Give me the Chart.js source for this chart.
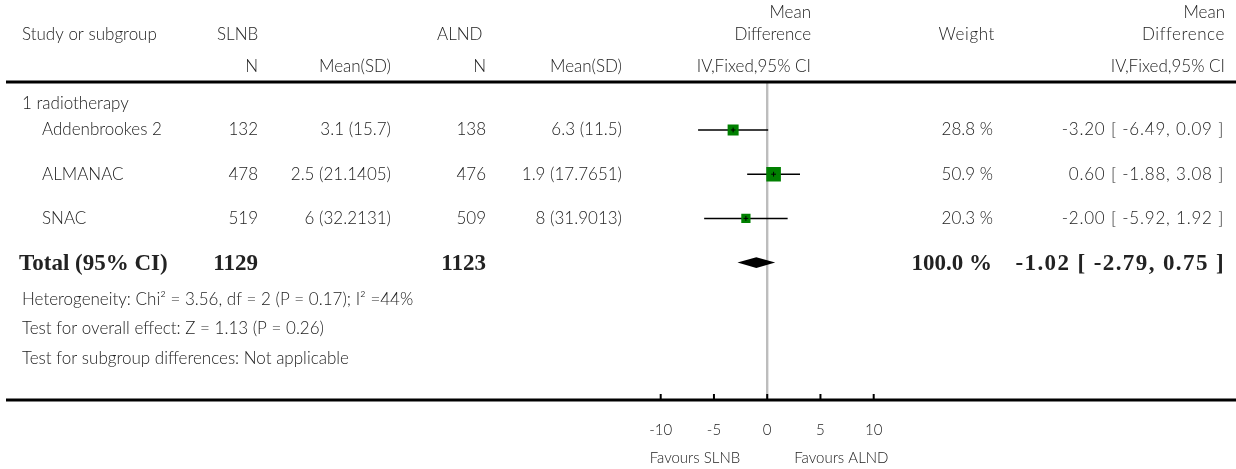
<!DOCTYPE html>
<html>
<head>
<meta charset="utf-8">
<script src="https://cdn.jsdelivr.net/npm/chart.js@4.4.0/dist/chart.umd.min.js"></script>
<style>
  html, body { margin: 0; padding: 0; background: #fff; }
  #wrap { width: 1236px; height: 469px; }
</style>
</head>
<body>
<div id="wrap"><canvas id="forest" width="1236" height="469"></canvas></div>
<script>
// Study rows of the "1 radiotherapy" subgroup
const studies = ['Addenbrookes 2', 'ALMANAC', 'SNAC'];
const slnbN = [132, 478, 519];
const slnbMean = ['3.1', '2.5', '6'];
const slnbSD = ['15.7', '21.1405', '32.2131'];
const alndN = [138, 476, 509];
const alndMean = ['6.3', '1.9', '8'];
const alndSD = ['11.5', '17.7651', '31.9013'];
const meanDiff = [-3.20, 0.60, -2.00];
const ciLow = [-6.49, -1.88, -5.92];
const ciHigh = [0.09, 3.08, 1.92];
const weights = [28.8, 50.9, 20.3];

// Pooled result
const totalN = [1129, 1123];
const totalWeight = 100.0;
const totalDiff = -1.02;
const totalLow = -2.79;
const totalHigh = 0.75;

// Axis ticks
const tickValues = [-10, -5, 0, 5, 10];
const tickLabels = ['-10', '-5', '0', '5', '10'];

const TOTAL_ROW = studies.length;          // row index of the pooled diamond
const SANS = '"Lato", "Open Sans", sans-serif';
const SERIF = '"Liberation Serif", "DejaVu Serif", serif';
const INK = '#222';
const BODY = '300 17px ' + SANS;
const SMALL = '300 15px ' + SANS;
const BOLD = 'bold 23px ' + SERIF;

function fmt2(v) { return v.toFixed(2); }
function ciText(m, lo, hi) { return fmt2(m) + ' [ ' + fmt2(lo) + ', ' + fmt2(hi) + ' ]'; }

// horizontal CI whiskers, one line dataset per study
const whiskers = studies.map((s, i) => ({
  type: 'line',
  label: s + ' CI',
  data: [{ x: ciLow[i], y: i }, { x: ciHigh[i], y: i }],
  borderColor: '#000',
  borderWidth: 1.5,
  pointRadius: 0,
  showLine: true,
  order: 3
}));

const squares = {
  type: 'scatter',
  label: 'Study estimate',
  data: meanDiff.map((m, i) => ({ x: m, y: i })),
  pointStyle: 'rect',
  pointRadius: weights.map(w => Math.sqrt(w) * 1.45),
  backgroundColor: '#008000',
  borderColor: '#008000',
  borderWidth: 0,
  order: 2
};

const centres = {
  type: 'scatter',
  label: 'Centre',
  data: meanDiff.map((m, i) => ({ x: m, y: i })),
  pointStyle: 'cross',
  pointRadius: 2.4,
  borderColor: '#000',
  borderWidth: 1,
  order: 1
};

function text(ctx, str, x, y, align, font, spacing) {
  ctx.font = font || BODY;
  ctx.textAlign = align || 'left';
  ctx.textBaseline = 'middle';
  ctx.fillStyle = INK;
  if ('letterSpacing' in ctx) ctx.letterSpacing = spacing || '0px';
  ctx.fillText(str, x, y);
  if ('letterSpacing' in ctx) ctx.letterSpacing = '0px';
}

const forestPlugin = {
  id: 'forestTable',
  beforeDatasetsDraw(chart) {
    const { ctx, chartArea, scales: { x } } = chart;
    const x0 = x.getPixelForValue(0);
    ctx.save();
    // line of no effect
    ctx.strokeStyle = '#bdbdbd';
    ctx.lineWidth = 2.4;
    ctx.beginPath();
    ctx.moveTo(x0, chartArea.top);
    ctx.lineTo(x0, chartArea.bottom);
    ctx.stroke();
    ctx.restore();
  },
  afterDatasetsDraw(chart) {
    const { ctx, chartArea, scales: { x, y } } = chart;
    const W = chart.width;
    ctx.save();

    // pooled diamond
    const yd = y.getPixelForValue(TOTAL_ROW);
    const half = Math.abs(y.getPixelForValue(TOTAL_ROW + 0.12) - yd);
    ctx.fillStyle = '#000';
    ctx.beginPath();
    ctx.moveTo(x.getPixelForValue(totalLow), yd);
    ctx.lineTo(x.getPixelForValue(totalDiff), yd - half);
    ctx.lineTo(x.getPixelForValue(totalHigh), yd);
    ctx.lineTo(x.getPixelForValue(totalDiff), yd + half);
    ctx.closePath();
    ctx.fill();

    // rules under the header and along the axis
    ctx.strokeStyle = '#000';
    ctx.lineWidth = 3;
    ctx.beginPath();
    ctx.moveTo(6, chartArea.top);
    ctx.lineTo(W, chartArea.top);
    ctx.moveTo(6, chartArea.bottom);
    ctx.lineTo(W, chartArea.bottom);
    ctx.stroke();

    // axis ticks and labels
    ctx.lineWidth = 2;
    tickValues.forEach((v, i) => {
      const px = x.getPixelForValue(v);
      ctx.beginPath();
      ctx.moveTo(px, chartArea.bottom - 6);
      ctx.lineTo(px, chartArea.bottom);
      ctx.stroke();
      text(ctx, tickLabels[i], px, 430, 'center', SMALL);
    });
    const x0 = x.getPixelForValue(0);
    text(ctx, 'Favours SLNB', x0 - 27, 458, 'right', SMALL);
    text(ctx, 'Favours ALND', x0 + 27, 458, 'left', SMALL);

    // header
    text(ctx, 'Study or subgroup', 22, 35);
    text(ctx, 'SLNB', 217, 35);
    text(ctx, 'ALND', 437, 35);
    text(ctx, 'Mean', 811, 13, 'right');
    text(ctx, 'Difference', 811, 35, 'right');
    text(ctx, 'Weight', 995, 35, 'right', BODY, '0.6px');
    text(ctx, 'Mean', 1225, 13, 'right');
    text(ctx, 'Difference', 1225, 35, 'right', BODY, '0.6px');
    text(ctx, 'N', 258, 67, 'right');
    text(ctx, 'Mean(SD)', 391, 67, 'right');
    text(ctx, 'N', 486, 67, 'right');
    text(ctx, 'Mean(SD)', 622, 67, 'right');
    text(ctx, 'IV,Fixed,95% CI', 811, 67, 'right');
    text(ctx, 'IV,Fixed,95% CI', 1225, 67, 'right');

    // subgroup title
    text(ctx, '1 radiotherapy', 22, y.getPixelForValue(-0.61));

    // study rows
    studies.forEach((s, i) => {
      const py = y.getPixelForValue(i);
      text(ctx, s, 42, py);
      text(ctx, String(slnbN[i]), 258, py, 'right');
      text(ctx, slnbMean[i] + ' (' + slnbSD[i] + ')', 391, py, 'right');
      text(ctx, String(alndN[i]), 486, py, 'right');
      text(ctx, alndMean[i] + ' (' + alndSD[i] + ')', 622, py, 'right');
      text(ctx, weights[i].toFixed(1) + ' %', 993, py, 'right');
      text(ctx, ciText(meanDiff[i], ciLow[i], ciHigh[i]), 1224, py, 'right', BODY, '0.8px');
    });

    // pooled row
    text(ctx, 'Total (95% CI)', 19, yd + 1, 'left', BOLD);
    text(ctx, String(totalN[0]), 258, yd + 1, 'right', BOLD);
    text(ctx, String(totalN[1]), 486, yd + 1, 'right', BOLD);
    text(ctx, totalWeight.toFixed(1) + ' %', 992, yd + 1, 'right', BOLD);
    text(ctx, ciText(totalDiff, totalLow, totalHigh), 1225, yd + 1, 'right', BOLD, '1.4px');

    // footnotes
    text(ctx, 'Heterogeneity: Chi\u00B2 = 3.56, df = 2 (P = 0.17); I\u00B2 =44%', 22, 300);
    text(ctx, 'Test for overall effect: Z = 1.13 (P = 0.26)', 22, 329);
    text(ctx, 'Test for subgroup differences: Not applicable', 22, 359);

    ctx.restore();
  }
};

new Chart(document.getElementById('forest'), {
  type: 'scatter',
  data: { datasets: [...whiskers, squares, centres] },
  options: {
    responsive: false,
    animation: false,
    devicePixelRatio: 1,
    layout: { padding: { left: 660.7, right: 362.3, top: 82, bottom: 69 } },
    plugins: { legend: { display: false }, tooltip: { enabled: false } },
    scales: {
      x: { type: 'linear', min: -10, max: 10, display: false },
      y: { type: 'linear', min: -1.086, max: 6.109, reverse: true, display: false }
    }
  },
  plugins: [forestPlugin]
});
</script>
</body>
</html>
